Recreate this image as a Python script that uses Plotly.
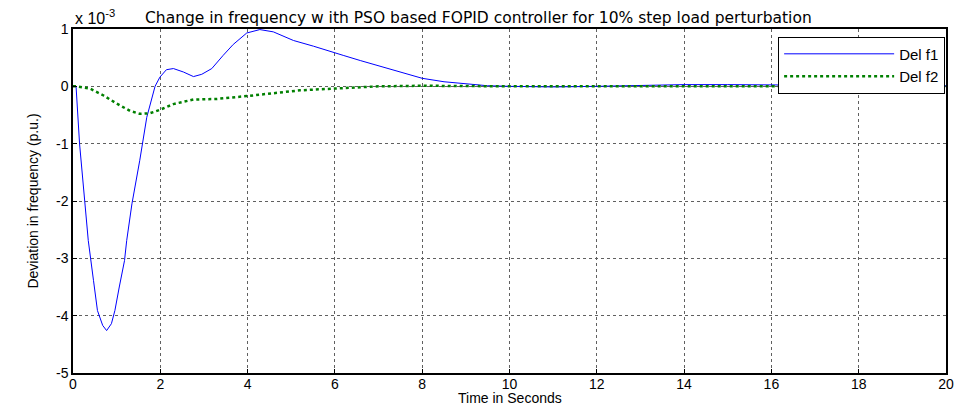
import plotly.graph_objects as go

# Data (values in units of 1e-3 p.u.)
t1 = [0, 0.07, 0.15, 0.25, 0.35, 0.47, 0.56, 0.68, 0.77, 0.88, 0.96, 1.06, 1.18, 1.23, 1.35, 1.53,
      1.69, 1.88, 1.99, 2.14, 2.3, 2.53, 2.76, 2.95, 3.18, 3.44, 3.67, 3.98, 4.28, 4.59, 5.05,
      5.51, 5.97, 6.19, 6.58, 7.0, 7.5, 8.0, 8.5, 9.0, 9.5, 10.0, 11.0, 12.0, 13.0, 14.0, 15.0,
      16.0, 17.0, 18.0, 19.0, 20.0]
f1 = [0, 0, -1.0, -1.9, -2.69, -3.39, -3.91, -4.17, -4.26, -4.14, -3.91, -3.50, -3.04, -2.69, -2.05, -1.29,
      -0.54, 0.0, 0.16, 0.29, 0.31, 0.25, 0.17, 0.21, 0.31, 0.54, 0.73, 0.93, 0.99, 0.95, 0.80,
      0.70, 0.60, 0.54, 0.45, 0.36, 0.25, 0.14, 0.08, 0.04, 0.01, 0.0, -0.01, 0.0, 0.02, 0.03, 0.03,
      0.03, 0.02, 0.01, 0.01, 0.01]

t2 = [0, 0.07, 0.39, 0.7, 1.0, 1.31, 1.53, 1.76, 1.99, 2.3, 2.76, 3.29, 3.98, 4.59, 5.2, 5.96,
      6.58, 7.0, 8.0, 9.0, 10.0, 12.0, 14.0, 16.0, 18.0, 20.0]
f2 = [0, 0, -0.04, -0.16, -0.30, -0.43, -0.48, -0.47, -0.41, -0.31, -0.23, -0.22, -0.17, -0.12, -0.07, -0.04,
      -0.02, 0.0, 0.01, 0.0, 0.0, 0.0, 0.0, 0.0, 0.0, 0.0]

x_ticks = [0, 2, 4, 6, 8, 10, 12, 14, 16, 18, 20]
y_ticks = [1, 0, -1, -2, -3, -4, -5]

FONT = "Liberation Sans, Arial, sans-serif"

fig = go.Figure()
fig.add_trace(go.Scatter(x=t1, y=f1, mode="lines", name="Del f1",
                         line=dict(color="#0000ff", width=1)))
fig.add_trace(go.Scatter(x=t2, y=f2, mode="lines", name="Del f2",
                         line=dict(color="#008000", width=2.5, dash="dot")))

axis_common = dict(showline=True, linecolor="black", linewidth=1.5, mirror=True,
                   showgrid=True, gridcolor="#606060", griddash="dot", gridwidth=1,
                   zeroline=False, ticks="inside", ticklen=4, tickcolor="black",
                   automargin=False,
                   tickfont=dict(family=FONT, size=14, color="black"))

fig.update_xaxes(range=[0, 20], tickvals=x_ticks, ticktext=[str(v) for v in x_ticks],
                 ticklabelstandoff=-3, **axis_common)
fig.update_yaxes(range=[-5, 1], tickvals=y_ticks, ticktext=[str(v) for v in y_ticks],
                 title=dict(text="Deviation in frequency (p.u.)",
                            font=dict(family="Liberation Sans Narrow, Liberation Sans, Arial", size=14, color="black"),
                            standoff=14),
                 **axis_common)

fig.update_layout(
    width=960, height=407,
    margin=dict(l=73, r=14, t=29, b=34),
    plot_bgcolor="white", paper_bgcolor="white",
    showlegend=True,
    legend=dict(x=0.999, y=0.978, xanchor="right", yanchor="top",
                bordercolor="black", borderwidth=1, bgcolor="white",
                font=dict(family=FONT, size=15, color="black"),
                tracegroupgap=0, itemwidth=110),
    annotations=[
        dict(text="x 10<sup>-3</sup>", xref="paper", yref="paper", x=0.0, y=1.0,
             xanchor="left", yanchor="bottom", showarrow=False,
             font=dict(family=FONT, size=16, color="black")),
        dict(text="Change in frequency w ith PSO based FOPID controller for 10% step load perturbation",
             xref="paper", yref="paper", x=0.464, y=1.0, xanchor="center", yanchor="bottom",
             showarrow=False, font=dict(family="DejaVu Sans, Liberation Sans", size=15.5, color="black")),
        dict(text="Time in Seconds", xref="paper", yref="paper", x=0.5, y=-0.072,
             xanchor="center", yanchor="middle", showarrow=False,
             font=dict(family=FONT, size=14, color="black")),
    ],
)

fig.write_html("out.html")
